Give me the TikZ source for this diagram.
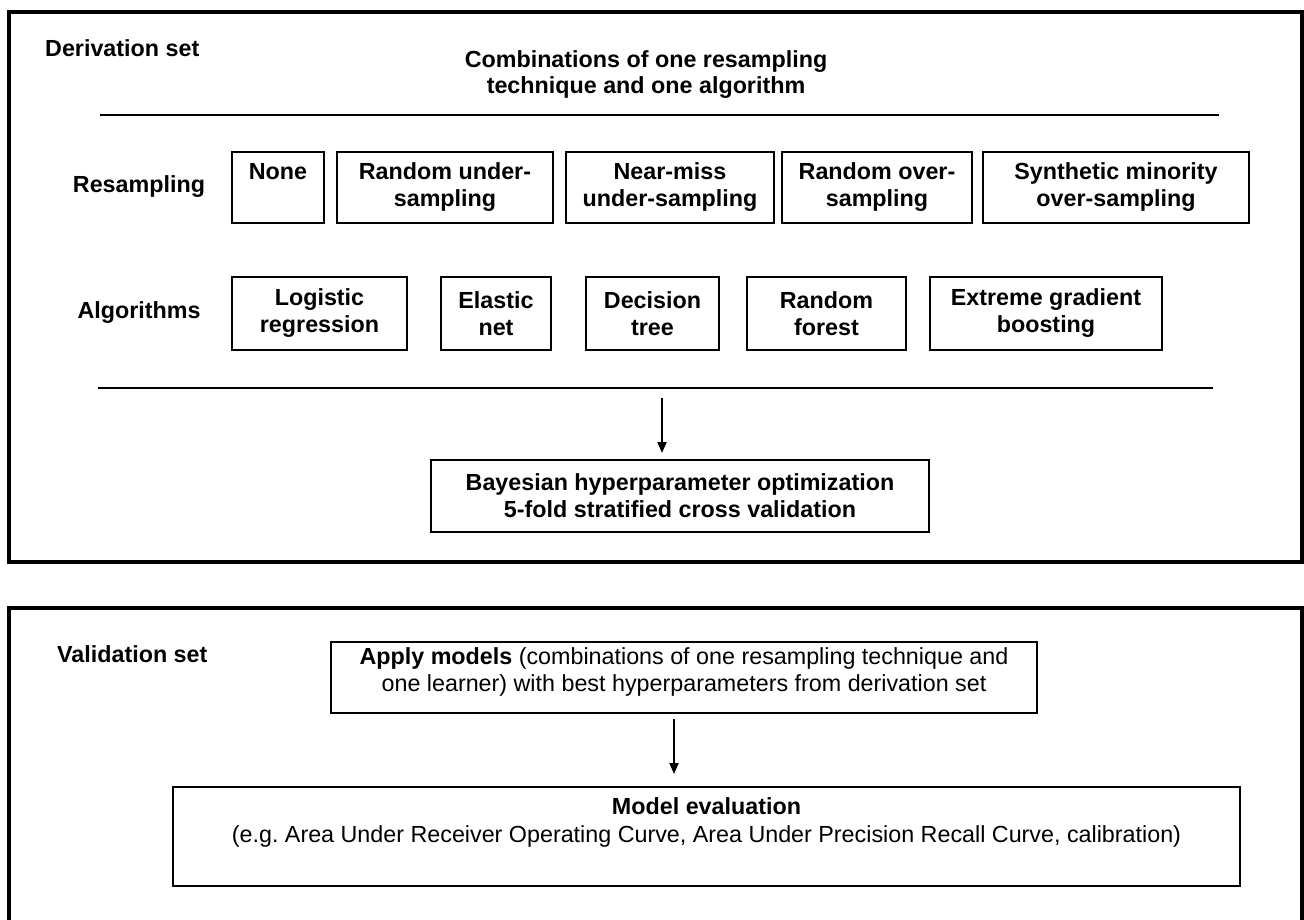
\documentclass[tikz,border=0pt]{standalone}
\usepackage{fontspec}
\setmainfont{Liberation Sans}
\usetikzlibrary{arrows.meta}
\newcommand\fsz{\fontsize{23.3}{27}\selectfont}
\begin{document}
\begin{tikzpicture}[x=1pt,y=-1pt,
  frame/.style={line width=4pt},
  rule/.style={line width=2.4pt},
  box/.style={draw, line width=2pt, inner sep=0pt, align=center, font=\fsz\bfseries},
  plainbox/.style={draw, line width=2pt, inner sep=0pt},
  lbl/.style={inner sep=0pt, font=\fsz\bfseries, align=center},
  txt/.style={inner sep=0pt, font=\fsz, align=center},
  arr/.style={line width=2pt, -{Triangle[length=11pt,width=9pt]}}
]
\clip (0,0) rectangle (1304,920);
\fill[white] (0,0) rectangle (1304,920);

% frames
\draw[frame] (9,12) rectangle (1302,562);
\draw[frame] (9,930) -- (9,608) -- (1302,608) -- (1302,930);

% derivation set
\node[lbl, anchor=west] (dlab) at (45,48) {Derivation set};
\node[lbl, font=\fontsize{23.3}{26}\selectfont\bfseries] (comb) at (646,75) {Combinations of one resampling\\technique and one algorithm};
\coordinate (r1a) at (100,115);
\coordinate (r1b) at (1219,115);
\draw[rule] (r1a) -- (r1b);

\node[lbl] (reslab) at (139,187) {Resampling};
\node[box, minimum width=92pt, minimum height=71pt] (none) at (278,187.5) {None\\\phantom{g}};
\node[box, minimum width=216pt, minimum height=71pt] (rus) at (445,187.5) {Random under-\\sampling};
\node[box, minimum width=208pt, minimum height=71pt] (nms) at (670,187.5) {Near-miss\\under-sampling};
\node[box, minimum width=190pt, minimum height=71pt] (ros) at (877,187.5) {Random over-\\sampling};
\node[box, minimum width=266pt, minimum height=71pt] (smo) at (1116,187.5) {Synthetic minority\\over-sampling};

\node[lbl] (alglab) at (139,313) {Algorithms};
\node[box, minimum width=175pt, minimum height=73pt] (lr) at (319.5,313.5) {Logistic\\regression};
\node[box, minimum width=110pt, minimum height=73pt] (en) at (496,313.5) {Elastic\\net};
\node[box, minimum width=133pt, minimum height=73pt] (dt) at (652.5,313.5) {Decision\\tree};
\node[box, minimum width=159pt, minimum height=73pt] (rf) at (826.5,313.5) {Random\\forest};
\node[box, minimum width=232pt, minimum height=73pt] (xgb) at (1046,313.5) {Extreme gradient\\boosting};

\coordinate (r2a) at (98,388);
\coordinate (r2b) at (1213,388);
\draw[rule] (r2a) -- (r2b);

\node[box, minimum width=498pt, minimum height=72pt] (bayes) at (680,496) {Bayesian hyperparameter optimization\\5-fold stratified cross validation};
\coordinate (a1) at (662,398);
\draw[arr] (a1) -- ([yshift=6pt]bayes.north -| a1);

% validation set
\node[lbl, anchor=west] (vlab) at (57,654) {Validation set};
\node[plainbox, minimum width=706pt, minimum height=71pt] (apply) at (684,677.5) {};
\node[txt] (applytxt) at (684,672) {\textbf{Apply models} (combinations of one resampling technique and\\one learner) with best hyperparameters from derivation set};
\node[plainbox, minimum width=1067pt, minimum height=99pt] (eval) at (706.5,836.5) {};
\node[txt, anchor=north, font=\fontsize{23.3}{28}\selectfont] (evaltxt) at (706.5,797) {\textbf{Model evaluation}\\(e.g.\ Area Under Receiver Operating Curve, Area Under Precision Recall Curve, calibration)};
\coordinate (a2) at (674,719);
\draw[arr] (a2) -- ([yshift=12pt]eval.north -| a2);
\end{tikzpicture}
\end{document}
